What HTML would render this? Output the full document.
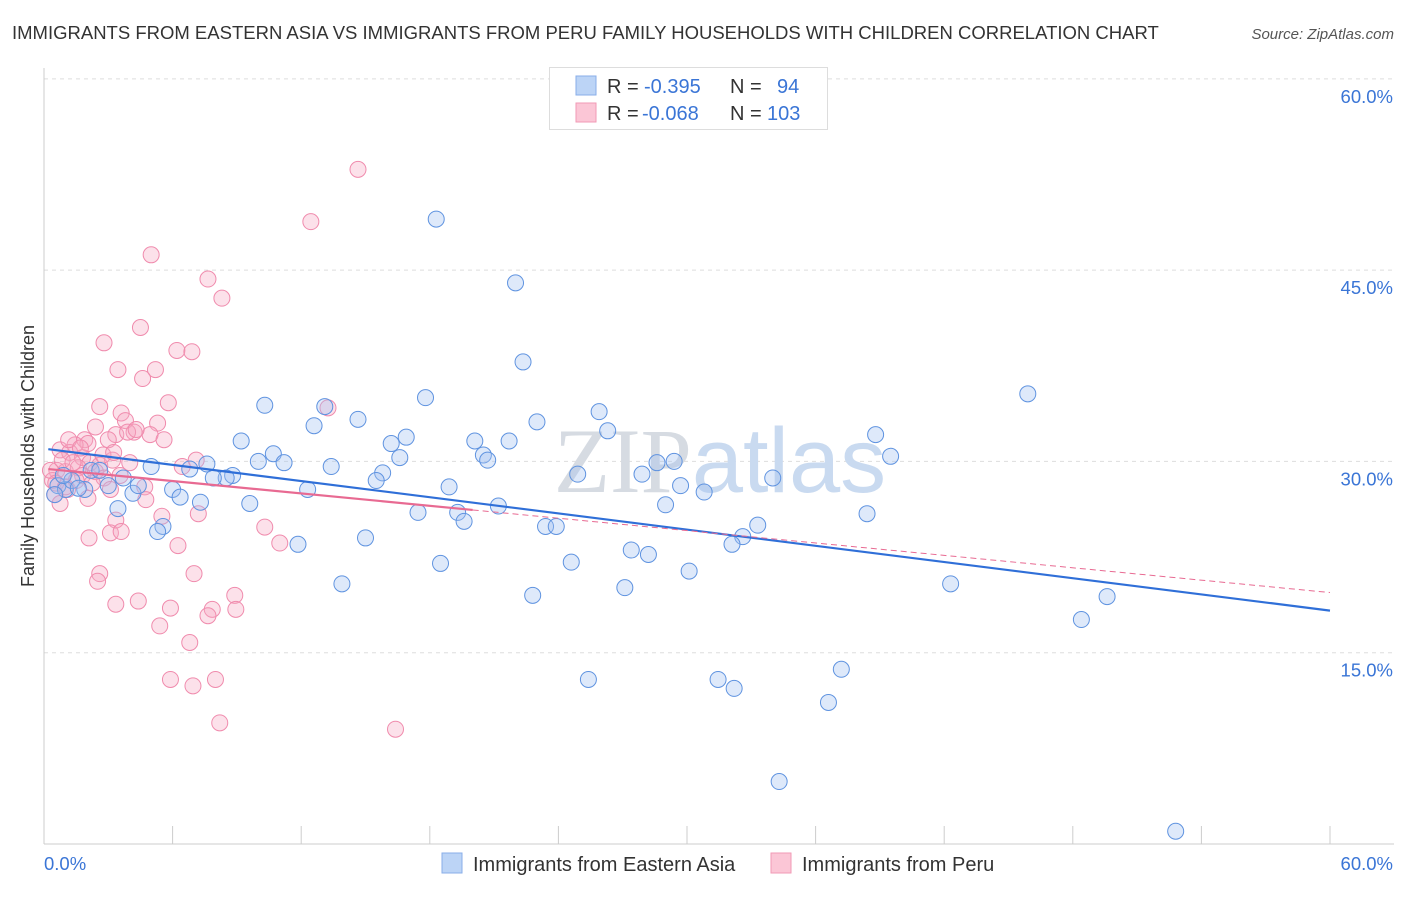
<!DOCTYPE html>
<html><head><meta charset="utf-8"><style>
body{margin:0;background:#fff;font-family:"Liberation Sans",sans-serif}
svg text{font-family:"Liberation Sans",sans-serif}
</style></head><body>
<svg width="1406" height="892" viewBox="0 0 1406 892" xmlns="http://www.w3.org/2000/svg">
<text x="12" y="39" font-size="18.5" fill="#333">IMMIGRANTS FROM EASTERN ASIA VS IMMIGRANTS FROM PERU FAMILY HOUSEHOLDS WITH CHILDREN CORRELATION CHART</text>
<text x="1394" y="39" font-size="15" fill="#555" font-style="italic" text-anchor="end">Source: ZipAtlas.com</text>
<g id="grid"></g>
<text x="720" y="492" font-size="92" fill="#dde3ea" text-anchor="middle" font-family="Liberation Serif"><tspan font-family="Liberation Serif" fill="#d6dbe2">ZIP</tspan><tspan font-family="Liberation Sans" fill="#c9daf0">atlas</tspan></text>
<g id="axes"></g>
<g id="pts"></g>
<g id="trends"></g>
<text transform="translate(34,456) rotate(-90)" font-size="18" fill="#333" text-anchor="middle">Family Households with Children</text>
<g>
<rect x="549.5" y="67.5" width="278" height="62" fill="#fff" stroke="#ddd"/>
<rect x="576" y="76" width="20" height="19" fill="#bcd4f6" stroke="#88aee8"/>
<rect x="576" y="103" width="20" height="19" fill="#fbc6d6" stroke="#f29ab5"/>
<text x="607" y="93" font-size="20" fill="#333">R = <tspan x="644" fill="#3a75d6">-0.395</tspan><tspan x="730">N = </tspan><tspan x="777" fill="#3a75d6">94</tspan></text>
<text x="607" y="120" font-size="20" fill="#333">R = <tspan x="642" fill="#3a75d6">-0.068</tspan><tspan x="730">N = </tspan><tspan x="767" fill="#3a75d6">103</tspan></text>
</g>
<g>
<rect x="442" y="853" width="20" height="20" fill="#bcd4f6" stroke="#88aee8"/>
<text x="473" y="871" font-size="20" fill="#333">Immigrants from Eastern Asia</text>
<rect x="771" y="853" width="20" height="20" fill="#fbc6d6" stroke="#f29ab5"/>
<text x="802" y="871" font-size="20" fill="#333">Immigrants from Peru</text>
</g>
</svg>
<script>
const blueX=[18.3,22.0,22.35,17.8,45.9,25.9,10.3,13.1,14.65,23.0,12.6,26.3,38.8,16.9,16.2,20.1,21.7,9.2,20.5,20.7,39.5,10.7,11.2,10.0,16.6,28.6,29.4,5.0,7.6,6.8,13.4,15.8,27.9,24.9,34.0,8.8,8.5,7.9,15.5,29.7,18.9,30.8,12.3,6.0,4.15,6.35,7.3,9.6,21.2,17.45,19.3,29.0,38.4,3.45,19.6,23.4,23.9,33.3,32.6,32.1,5.55,5.3,15.0,27.4,28.2,11.85,24.6,18.5,30.1,13.9,27.1,42.3,22.8,49.6,48.4,37.2,25.4,31.45,32.2,36.6,34.3,52.8,0.65,1.0,0.5,1.3,1.9,2.2,2.6,3.0,0.9,1.6,3.7,4.4];
const blueY=[49.0,44.0,37.8,35.0,35.3,33.9,34.4,34.3,33.3,33.1,32.8,32.4,32.1,31.9,31.4,31.6,31.6,31.6,30.5,30.1,30.4,30.6,29.9,30.0,30.3,29.9,30.0,29.6,29.8,29.4,29.6,29.1,29.0,29.0,28.7,28.9,28.7,28.7,28.5,28.1,28.0,27.6,27.8,27.8,27.5,27.2,26.8,26.7,26.5,26.0,26.0,26.6,25.9,26.3,25.3,24.9,24.9,25.0,24.1,23.5,24.9,24.5,24.0,23.05,22.7,23.5,22.1,22.0,21.4,20.4,20.1,20.4,19.5,19.4,17.6,13.7,12.9,12.9,12.2,11.1,4.9,1.0,28.1,27.8,27.4,28.5,27.8,29.3,29.3,28.1,28.9,27.9,28.7,28.1];
const pinkX=[14.65,12.45,5.0,7.65,8.3,4.5,2.8,6.2,6.9,3.45,5.2,4.6,5.8,2.6,13.25,3.6,5.3,2.4,3.8,4.2,3.35,1.9,4.95,2.05,3.9,4.3,5.6,3.0,1.45,0.75,1.2,1.8,2.15,2.6,3.2,4.0,0.6,1.0,1.6,2.4,3.55,4.7,7.1,6.45,2.8,3.1,0.4,0.5,0.75,1.1,2.05,4.75,7.2,5.5,3.35,3.1,3.6,10.3,2.1,11.0,6.25,2.6,2.5,7.0,4.4,3.35,5.9,7.85,8.9,8.95,7.65,5.4,6.8,5.9,6.95,8.0,8.2,16.4,0.85,1.35,1.8,0.3,0.55,1.0,1.5,2.25,2.75,3.25,1.15,1.7];
const pinkY=[52.9,48.8,46.2,44.3,42.8,40.5,39.3,38.7,38.6,37.2,37.2,36.5,34.6,34.3,34.2,33.8,33.0,32.7,33.2,32.3,32.1,31.7,32.1,31.4,32.3,32.5,31.7,31.7,31.3,30.9,30.7,30.3,29.9,29.7,30.1,29.9,29.3,29.2,29.5,29.2,28.9,28.0,30.1,29.6,28.7,27.8,28.5,27.4,26.7,27.8,27.1,27.0,25.9,25.7,25.4,24.4,24.5,24.85,24.0,23.6,23.4,21.2,20.6,21.2,19.05,18.8,18.5,18.4,19.5,18.4,17.9,17.1,15.8,12.9,12.4,12.9,9.5,9.0,30.1,29.9,28.9,29.3,28.3,28.0,28.5,28.3,30.5,30.7,31.7,31.05];
const yTicks=[15,30,45,60];
const xTicks=[0,6,12,18,24,30,36,42,48,54,60];
const NS='http://www.w3.org/2000/svg';
const sx=v=>44+v*(1286/60);
const sy=v=>844-v*12.753;
function mk(tag,attrs,parent){const e=document.createElementNS(NS,tag);for(const k in attrs)e.setAttribute(k,attrs[k]);parent.appendChild(e);return e;}
const grid=document.getElementById('grid'),axes=document.getElementById('axes');
yTicks.forEach(t=>{
 const l=mk('line',{x1:44,x2:1394,y1:sy(t),y2:sy(t),stroke:'#ddd','stroke-dasharray':'4,4'},grid);
 
 
 const tx=mk('text',{x:1393,y:sy(t)+24,'font-size':18.5,fill:'#3a75d6','text-anchor':'end'},axes);
 tx.textContent=t.toFixed(1)+'%';
 
 
});
const xa=mk('line',{x1:44,x2:1394,y1:844,y2:844,stroke:'#ccc'},axes);


const ya=mk('line',{x1:44,x2:44,y1:68,y2:844,stroke:'#ccc'},axes);


xTicks.forEach(t=>{
 const l=mk('line',{x1:sx(t),x2:sx(t),y1:826,y2:844,stroke:'#ccc'},axes);
 
 
});
[[0,44,'start'],[60,1393,'end']].forEach(([v,x,a])=>{
 const tx=mk('text',{x:x,y:870,'font-size':18.5,fill:'#3a75d6','text-anchor':a},axes);
 tx.textContent=v.toFixed(1)+'%';
 
 
});
const pts=document.getElementById('pts');
pinkX.forEach((x,i)=>{
 const c=mk('circle',{cx:sx(x),cy:sy(pinkY[i]),r:8,fill:'rgba(246,170,196,0.35)',stroke:'#f08bad','stroke-width':1},pts);
 
 
});
blueX.forEach((x,i)=>{
 const c=mk('circle',{cx:sx(x),cy:sy(blueY[i]),r:8,fill:'rgba(160,192,240,0.35)',stroke:'#5f93e0','stroke-width':1},pts);
 
 
});
function fit(X,Y){const n=X.length;let mx=0,my=0;X.forEach((x,i)=>{mx+=x;my+=Y[i];});mx/=n;my/=n;let sxy=0,sxx=0;X.forEach((x,i)=>{sxy+=(x-mx)*(Y[i]-my);sxx+=(x-mx)*(x-mx);});const b=sxy/sxx;return [my-b*mx,b];}
const tr=document.getElementById('trends');
const [ba,bb]=fit(blueX,blueY);
const bl=mk('line',{x1:sx(0.2),y1:sy(ba+bb*0.2),x2:sx(60),y2:sy(ba+bb*60),stroke:'#2f6fd8','stroke-width':2.2},tr);


const [pa,pb]=fit(pinkX,pinkY);
const pl=mk('line',{x1:sx(0.2),y1:sy(pa+pb*0.2),x2:sx(20),y2:sy(pa+pb*20),stroke:'#e86a92','stroke-width':2.2},tr);


const pd=mk('line',{x1:sx(20),y1:sy(pa+pb*20),x2:sx(60),y2:sy(pa+pb*60),stroke:'#e86a92','stroke-width':1,'stroke-dasharray':'6,4'},tr);


</script>
</body></html>
